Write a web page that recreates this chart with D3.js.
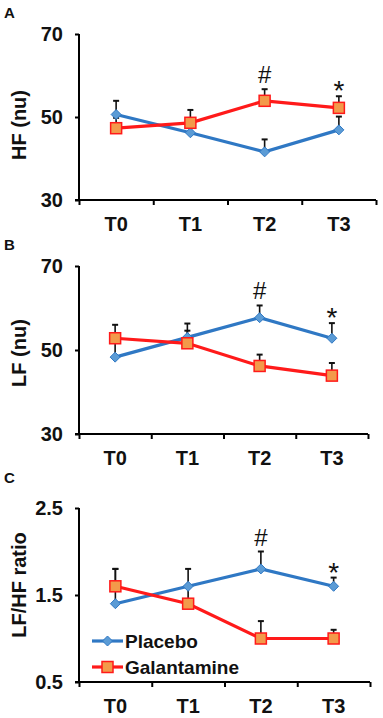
<!DOCTYPE html>
<html><head><meta charset="utf-8">
<script src="https://cdn.jsdelivr.net/npm/d3@7"></script>
<style>body{margin:0;background:#fff}svg{display:block}text{font-family:"Liberation Sans",Arial,sans-serif}</style>
</head><body><svg id="c" width="383" height="718"></svg>
<script>
const categories = ["T0","T1","T2","T3"];
const seriesNames = ["Placebo","Galantamine"];
// Panel A: HF (nu)
const hfPlacebo = [50.6, 46.2, 41.6, 46.9];
const hfPlaceboErr = [3.3, 2.8, 3.0, 3.2];
const hfGalantamine = [47.3, 48.6, 53.9, 52.2];
const hfGalantamineErr = [2.5, 3.1, 2.8, 2.8];
// Panel B: LF (nu)
const lfPlacebo = [48.3, 53.0, 57.7, 52.8];
const lfPlaceboErr = [3.5, 3.3, 2.9, 3.6];
const lfGalantamine = [52.8, 51.6, 46.2, 43.9];
const lfGalantamineErr = [3.2, 3.0, 2.7, 3.0];
// Panel C: LF/HF ratio
const ratioPlacebo = [1.4, 1.6, 1.8, 1.6];
const ratioPlaceboErr = [0.4, 0.2, 0.2, 0.1];
const ratioGalantamine = [1.6, 1.4, 1.0, 1.0];
const ratioGalantamineErr = [0.2, 0.2, 0.2, 0.1];
const hfTicks = [30, 50, 70];
const lfTicks = [30, 50, 70];
const ratioTicks = [0.5, 1.5, 2.5];

const panels = [
  {label:"A", title:"HF (nu)", p:hfPlacebo, pe:hfPlaceboErr, g:hfGalantamine, ge:hfGalantamineErr, ticks:hfTicks, fmt:d3.format("d"),
   top:34, bottom:200, right:376, tc:125, ann:[{i:2,s:"#",ref:"g"},{i:3,s:"*",ref:"g"}], legend:false, ly:18},
  {label:"B", title:"LF (nu)", p:lfPlacebo, pe:lfPlaceboErr, g:lfGalantamine, ge:lfGalantamineErr, ticks:lfTicks, fmt:d3.format("d"),
   top:266, bottom:434, right:368, tc:353, ann:[{i:2,s:"#",ref:"p"},{i:3,s:"*",ref:"p"}], legend:false, ly:250},
  {label:"C", title:"LF/HF ratio", p:ratioPlacebo, pe:ratioPlaceboErr, g:ratioGalantamine, ge:ratioGalantamineErr, ticks:ratioTicks, fmt:d3.format(".1f"),
   top:508, bottom:682, right:370, tc:585, ann:[{i:2,s:"#",ref:"p"},{i:3,s:"*",ref:"p"}], legend:true, ly:483}
];

const blueLine = "#2f78c4", blueFill = "#5b9bd5", red = "#ff1a1a", orange = "#f39a4a";
const svg = d3.select("#c");
const left = 79;

panels.forEach(P => {
  const g = svg.append("g");
  const y = d3.scaleLinear().domain([P.ticks[0], P.ticks[2]]).range([P.bottom, P.top]);
  const xb = d3.scaleBand().domain(categories).range([left, P.right]);
  const xe = d3.scaleLinear().domain([0, 4]).range([left, P.right]);
  const cx = c => xb(c) + xb.bandwidth()/2;

  g.append("text").attr("x", 4).attr("y", P.ly).text(P.label)
    .attr("font-size", 15).attr("font-weight", "bold").attr("fill", "#111");

  const ya = g.append("g").attr("transform", `translate(${left},0)`)
    .call(d3.axisLeft(y).tickValues(P.ticks).tickFormat(P.fmt).tickSize(4).tickPadding(12));
  ya.select(".domain").attr("stroke-width", 2).attr("d", `M0,${P.top}V${P.bottom}`);
  ya.selectAll(".tick line").attr("stroke-width", 2);
  ya.selectAll(".tick text").attr("font-size", 20).attr("font-weight", "bold")
    .attr("font-family", "'Liberation Sans',Arial,sans-serif").attr("fill", "#111");

  const xa = g.append("g").attr("transform", `translate(0,${P.bottom})`)
    .call(d3.axisBottom(xe).tickValues([0,1,2,3,4]).tickFormat("").tickSize(5));
  xa.select(".domain").attr("stroke-width", 2).attr("d", `M${left-4},0H${P.right}`);
  xa.selectAll(".tick line").attr("stroke-width", 2);
  g.selectAll(".xl").data(categories).enter().append("text")
    .attr("x", d => cx(d)).attr("y", P.bottom + 31).attr("text-anchor", "middle")
    .attr("font-size", 20).attr("font-weight", "bold").attr("fill", "#111").text(d => d);

  g.append("text").attr("transform", `translate(26,${P.tc}) rotate(-90)`)
    .attr("text-anchor", "middle").attr("font-size", 20).attr("font-weight", "bold").attr("fill", "#111")
    .text(P.title);

  const series = [
    {v:P.p, e:P.pe, line:blueLine, key:"p"},
    {v:P.g, e:P.ge, line:red, key:"g"}
  ];
  series.forEach(S => {
    categories.forEach((c, i) => {
      const x0 = cx(c), y0 = y(S.v[i]), y1 = y(S.v[i] + S.e[i]);
      g.append("line").attr("x1", x0).attr("x2", x0).attr("y1", y0).attr("y2", y1)
        .attr("stroke", "#111").attr("stroke-width", 1.6);
      g.append("line").attr("x1", x0 - 3).attr("x2", x0 + 3).attr("y1", y1).attr("y2", y1)
        .attr("stroke", "#111").attr("stroke-width", 2);
    });
  });
  const line = d3.line().x((d, i) => cx(categories[i])).y(d => y(d));
  series.forEach(S => {
    g.append("path").attr("d", line(S.v)).attr("fill", "none")
      .attr("stroke", S.line).attr("stroke-width", 3.2);
  });
  series.forEach(S => {
    S.v.forEach((v, i) => {
      const x0 = cx(categories[i]), y0 = y(v);
      if (S.key === "p") {
        g.append("path").attr("d", `M${x0},${y0-5}L${x0+5},${y0}L${x0},${y0+5}L${x0-5},${y0}Z`)
          .attr("fill", blueFill).attr("stroke", blueLine).attr("stroke-width", 1);
      } else {
        g.append("rect").attr("x", x0 - 5.5).attr("y", y0 - 5.5).attr("width", 11).attr("height", 11)
          .attr("fill", orange).attr("stroke", red).attr("stroke-width", 1.5);
      }
    });
  });
  P.ann.forEach(A => {
    const S = A.ref === "p" ? series[0] : series[1];
    const top = y(S.v[A.i] + S.e[A.i]);
    const star = A.s === "*";
    g.append("text").attr("x", cx(categories[A.i])).attr("y", star ? top + 4 : top - 6)
      .attr("text-anchor", "middle").attr("font-size", star ? 28 : 24).attr("fill", "#111")
      .attr("font-family", "'Liberation Sans',Arial,sans-serif").text(A.s);
  });

  if (P.legend) {
    const items = [{n:seriesNames[0], key:"p", y:641}, {n:seriesNames[1], key:"g", y:667}];
    items.forEach(it => {
      const lg = g.append("g");
      lg.append("line").attr("x1", 92).attr("x2", 123).attr("y1", it.y).attr("y2", it.y)
        .attr("stroke", it.key === "p" ? blueLine : red).attr("stroke-width", 3.2);
      const mx = 107.5;
      if (it.key === "p") {
        lg.append("path").attr("d", `M${mx},${it.y-5}L${mx+5},${it.y}L${mx},${it.y+5}L${mx-5},${it.y}Z`)
          .attr("fill", blueFill).attr("stroke", blueLine);
      } else {
        lg.append("rect").attr("x", mx - 5.5).attr("y", it.y - 5.5).attr("width", 11).attr("height", 11)
          .attr("fill", orange).attr("stroke", red).attr("stroke-width", 1.5);
      }
      lg.append("text").attr("x", 125).attr("y", it.y + 7).attr("font-size", 19).attr("font-weight", "bold")
        .attr("fill", "#111").text(it.n);
    });
  }
});
</script></body></html>
